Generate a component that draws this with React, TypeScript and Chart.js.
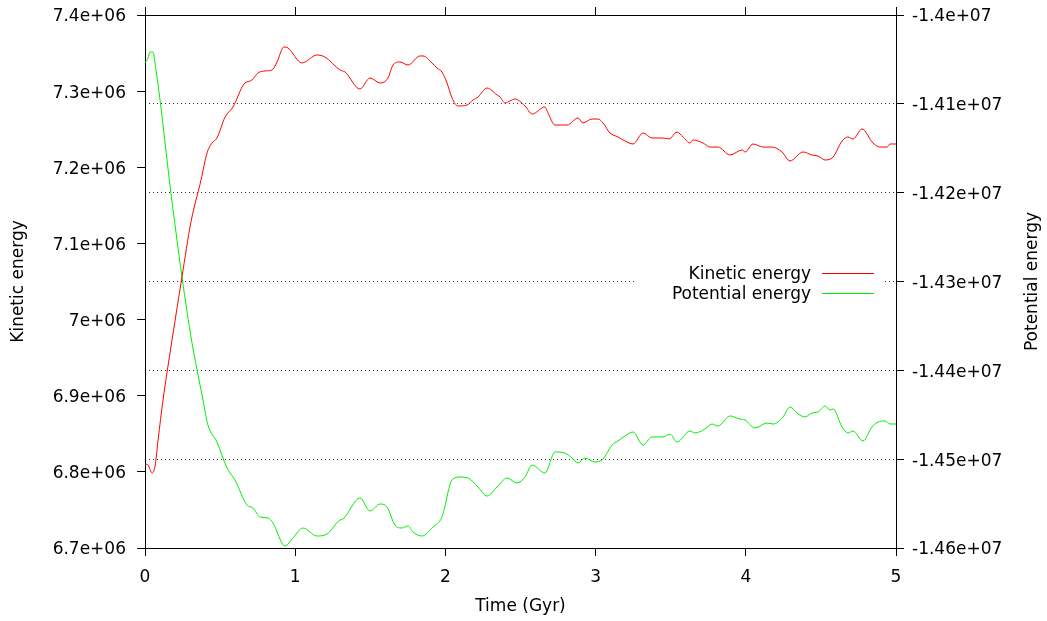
import React, { useEffect, useRef } from 'react';
import { Chart, registerables } from 'chart.js';

Chart.register(...registerables);

// ---- Data (Time in Gyr, energies) ----
const timeKinetic = [
  0, 0.02, 0.047, 0.067, 0.087, 0.12, 0.146, 0.18, 0.246, 0.306, 0.373, 0.413, 0.446, 0.479, 0.533, 0.586,
  0.659, 0.712, 0.752, 0.799, 0.846, 0.879, 0.925, 0.952, 1.045, 1.145, 1.198, 1.298, 1.332, 1.431, 1.498,
  1.565, 1.618, 1.651, 1.698, 1.751, 1.831, 1.851, 1.911, 1.944, 1.977, 2.011, 2.044, 2.084, 2.144, 2.184,
  2.217, 2.277, 2.344, 2.364, 2.397, 2.43, 2.463, 2.53, 2.577, 2.663, 2.683, 2.73, 2.81, 2.883, 2.916,
  2.976, 3.016, 3.049, 3.096, 3.149, 3.196, 3.249, 3.316, 3.375, 3.442, 3.489, 3.542, 3.582, 3.628, 3.648,
  3.715, 3.762, 3.815, 3.895, 3.975, 3.995, 4.048, 4.115, 4.174, 4.241, 4.294, 4.381, 4.441, 4.481, 4.527,
  4.581, 4.641, 4.68, 4.714, 4.774, 4.847, 4.893, 4.94, 4.96, 5.0,
];
const kineticEnergy = [
  6.8103e6, 6.809e6, 6.7985e6, 6.8077e6, 6.8418e6, 6.8944e6, 6.9298e6, 6.9732e6, 7.0559e6, 7.1281e6, 7.1833e6,
  7.2188e6, 7.2319e6, 7.2385e6, 7.266e6, 7.2792e6, 7.3094e6, 7.3146e6, 7.3238e6, 7.3265e6, 7.3278e6, 7.3383e6,
  7.358e6, 7.3567e6, 7.337e6, 7.3475e6, 7.3448e6, 7.3278e6, 7.3251e6, 7.3028e6, 7.3173e6, 7.3107e6, 7.3173e6,
  7.3343e6, 7.3383e6, 7.3343e6, 7.3462e6, 7.3462e6, 7.337e6, 7.3304e6, 7.3251e6, 7.3107e6, 7.291e6, 7.2805e6,
  7.2818e6, 7.2884e6, 7.2923e6, 7.3041e6, 7.2949e6, 7.2923e6, 7.2844e6, 7.2871e6, 7.2897e6, 7.2805e6, 7.27e6,
  7.2792e6, 7.2713e6, 7.2555e6, 7.2555e6, 7.2647e6, 7.2582e6, 7.2634e6, 7.2634e6, 7.2582e6, 7.245e6, 7.2398e6,
  7.2345e6, 7.2306e6, 7.245e6, 7.2385e6, 7.2385e6, 7.2372e6, 7.2463e6, 7.2398e6, 7.2319e6, 7.2358e6, 7.2319e6,
  7.2266e6, 7.2266e6, 7.2161e6, 7.2227e6, 7.2201e6, 7.2306e6, 7.2266e6, 7.2266e6, 7.2201e6, 7.2083e6, 7.2201e6,
  7.2161e6, 7.2148e6, 7.2096e6, 7.2135e6, 7.2345e6, 7.2398e6, 7.2372e6, 7.2503e6, 7.2319e6, 7.2266e6, 7.2266e6,
  7.2306e6, 7.2306e6,
];
const timePotential = [
  0, 0.02, 0.033, 0.053, 0.073, 0.1, 0.133, 0.166, 0.206, 0.246, 0.313, 0.36, 0.386, 0.419, 0.479, 0.546,
  0.599, 0.679, 0.719, 0.766, 0.819, 0.852, 0.932, 0.985, 1.052, 1.145, 1.212, 1.298, 1.318, 1.431, 1.498,
  1.565, 1.611, 1.664, 1.711, 1.751, 1.784, 1.844, 1.917, 1.977, 2.044, 2.097, 2.15, 2.217, 2.277, 2.344,
  2.41, 2.477, 2.53, 2.577, 2.663, 2.73, 2.796, 2.843, 2.883, 2.929, 2.996, 3.049, 3.109, 3.149, 3.196,
  3.249, 3.316, 3.375, 3.449, 3.495, 3.542, 3.628, 3.662, 3.728, 3.775, 3.815, 3.895, 3.961, 3.995, 4.061,
  4.141, 4.181, 4.248, 4.294, 4.341, 4.394, 4.441, 4.481, 4.527, 4.561, 4.581, 4.641, 4.68, 4.714, 4.78,
  4.84, 4.88, 4.927, 4.96, 5.0,
];
const potentialEnergy = [
  -1.4054e7, -1.40484e7, -1.40417e7, -1.40417e7, -1.40619e7, -1.40957e7, -1.4143e7, -1.41914e7, -1.42443e7,
  -1.42949e7, -1.43692e7, -1.44109e7, -1.44334e7, -1.44615e7, -1.44807e7, -1.45099e7, -1.45235e7, -1.45516e7,
  -1.4555e7, -1.45651e7, -1.45662e7, -1.45719e7, -1.45977e7, -1.45887e7, -1.45775e7, -1.45865e7, -1.45842e7,
  -1.45685e7, -1.45674e7, -1.45437e7, -1.45583e7, -1.45505e7, -1.45538e7, -1.45741e7, -1.45775e7, -1.45752e7,
  -1.4582e7, -1.45865e7, -1.45764e7, -1.45651e7, -1.45235e7, -1.45201e7, -1.45212e7, -1.45313e7, -1.45415e7,
  -1.45313e7, -1.45212e7, -1.45268e7, -1.45201e7, -1.45066e7, -1.45156e7, -1.44919e7, -1.44931e7, -1.44987e7,
  -1.45043e7, -1.44987e7, -1.45032e7, -1.44998e7, -1.44841e7, -1.44795e7, -1.44739e7, -1.44694e7, -1.44841e7,
  -1.4475e7, -1.4475e7, -1.44717e7, -1.44807e7, -1.44683e7, -1.44705e7, -1.4466e7, -1.44604e7, -1.44627e7,
  -1.44514e7, -1.44548e7, -1.44559e7, -1.44649e7, -1.44593e7, -1.44604e7, -1.44525e7, -1.44413e7, -1.4448e7,
  -1.44525e7, -1.4448e7, -1.44469e7, -1.44401e7, -1.44447e7, -1.44435e7, -1.44638e7, -1.44705e7, -1.44683e7,
  -1.44795e7, -1.44638e7, -1.44582e7, -1.4457e7, -1.44604e7, -1.44604e7,
];

const seriesLabels = ['Kinetic energy', 'Potential energy'];
const seriesColors = ['#ff0000', '#00ee00'];
const xTitle = 'Time (Gyr)';
const yTitle = 'Kinetic energy';
const y2Title = 'Potential energy';

const FONT = "'DejaVu Sans', sans-serif";
const FONT_SIZE = 17;

function gfmt(v: number): string {
  const [m, e] = v.toExponential(4).split('e');
  const mant = parseFloat(m).toString();
  const ei = parseInt(e, 10);
  const sign = ei < 0 ? '-' : '+';
  return mant + 'e' + sign + Math.abs(ei).toString().padStart(2, '0');
}

const noPad = (s: any) => {
  s.paddingTop = 0;
  s.paddingBottom = 0;
  s.paddingLeft = 0;
  s.paddingRight = 0;
};

const overlayPlugin = {
  id: 'gnuOverlay',
  afterDatasetsDraw(chart: any) {
    const { ctx, chartArea } = chart;
    ctx.save();
    // opaque key box
    const boxRight = chartArea.right - 13;
    const boxLeft = boxRight - 246;
    const rowY = [chartArea.top + 258, chartArea.top + 278];
    ctx.fillStyle = '#ffffff';
    ctx.fillRect(boxLeft, rowY[0] - 10, boxRight - boxLeft, 40);
    ctx.font = `${FONT_SIZE}px ${FONT}`;
    ctx.textAlign = 'right';
    ctx.textBaseline = 'middle';
    chart.data.datasets.forEach((ds: any, i: number) => {
      ctx.fillStyle = '#000';
      ctx.fillText(ds.label, boxRight - 72, rowY[i] + 1.5);
      ctx.strokeStyle = ds.borderColor;
      ctx.lineWidth = 1;
      ctx.beginPath();
      ctx.moveTo(boxRight - 61, rowY[i] + 0.5);
      ctx.lineTo(boxRight - 9, rowY[i] + 0.5);
      ctx.stroke();
    });
    ctx.restore();
  },
  afterDraw(chart: any) {
    const { ctx, chartArea, width } = chart;
    ctx.save();
    ctx.font = `${FONT_SIZE}px ${FONT}`;
    ctx.fillStyle = '#000';
    ctx.textAlign = 'center';
    ctx.textBaseline = 'middle';
    const midY = (chartArea.top + chartArea.bottom) / 2;
    ctx.fillText(xTitle, (chartArea.left + chartArea.right) / 2, chartArea.bottom + 59);
    ctx.save();
    ctx.translate(19, midY);
    ctx.rotate(-Math.PI / 2);
    ctx.fillText(yTitle, 0, 0);
    ctx.restore();
    ctx.save();
    ctx.translate(width - 14, midY);
    ctx.rotate(-Math.PI / 2);
    ctx.fillText(y2Title, 0, 0);
    ctx.restore();
    ctx.restore();
  },
};

export default function App() {
  const canvasRef = useRef<HTMLCanvasElement | null>(null);

  useEffect(() => {
    if (!canvasRef.current) return;
    Chart.defaults.font.family = FONT;
    Chart.defaults.font.size = FONT_SIZE;
    Chart.defaults.color = '#000';

    const chart = new Chart(canvasRef.current, {
      type: 'line',
      data: {
        datasets: [
          {
            label: seriesLabels[0],
            data: timeKinetic.map((t, i) => ({ x: t, y: kineticEnergy[i] })),
            borderColor: seriesColors[0],
            borderWidth: 1,
            pointRadius: 0,
            fill: false,
            cubicInterpolationMode: 'monotone',
            xAxisID: 'x',
            yAxisID: 'y',
          },
          {
            label: seriesLabels[1],
            data: timePotential.map((t, i) => ({ x: t, y: potentialEnergy[i] })),
            borderColor: seriesColors[1],
            borderWidth: 1,
            pointRadius: 0,
            fill: false,
            cubicInterpolationMode: 'monotone',
            xAxisID: 'x',
            yAxisID: 'y2',
          },
        ],
      },
      options: {
        responsive: false,
        animation: false,
        events: [],
        layout: { padding: 0 },
        plugins: { legend: { display: false }, tooltip: { enabled: false }, title: { display: false } },
        scales: {
          x: {
            type: 'linear',
            position: 'bottom',
            min: 0,
            max: 5,
            ticks: { stepSize: 1, padding: 11, color: '#000', callback: (v: any) => String(v) },
            grid: { drawOnChartArea: false, tickLength: 8, tickColor: '#000', color: '#000' },
            border: { color: '#000', width: 1 },
            afterFit: (s: any) => { s.height = 73; noPad(s); },
          },
          x2: {
            type: 'linear',
            position: 'top',
            min: 0,
            max: 5,
            ticks: { stepSize: 1, display: false },
            grid: { drawOnChartArea: false, tickLength: 8, tickColor: '#000', color: '#000' },
            border: { color: '#000', width: 1 },
            afterFit: (s: any) => { s.height = 15; noPad(s); },
          },
          y: {
            type: 'linear',
            position: 'left',
            min: 6.7e6,
            max: 7.4e6,
            ticks: { stepSize: 1e5, padding: 11, labelOffset: 2, color: '#000', callback: (v: any) => gfmt(Number(v)) },
            grid: { drawOnChartArea: false, tickLength: 8, tickColor: '#000', color: '#000' },
            border: { color: '#000', width: 1 },
            afterFit: (s: any) => { s.width = 145; noPad(s); },
          },
          y2: {
            type: 'linear',
            position: 'right',
            min: -1.46e7,
            max: -1.4e7,
            ticks: { stepSize: 1e5, padding: 8, labelOffset: 2, color: '#000', callback: (v: any) => gfmt(Number(v)) },
            grid: { drawOnChartArea: true, tickLength: 8, tickColor: '#000', color: '#333', lineWidth: 1 },
            border: { color: '#000', width: 1, dash: [1, 3] },
            afterFit: (s: any) => { s.width = 151; noPad(s); },
          },
        },
      } as any,
      plugins: [overlayPlugin],
    });
    return () => chart.destroy();
  }, []);

  return (
    <div style={{ position: 'fixed', left: 0, top: 0, width: 1047, height: 621, background: '#fff' }}>
      <canvas ref={canvasRef} width={1047} height={621} />
    </div>
  );
}
